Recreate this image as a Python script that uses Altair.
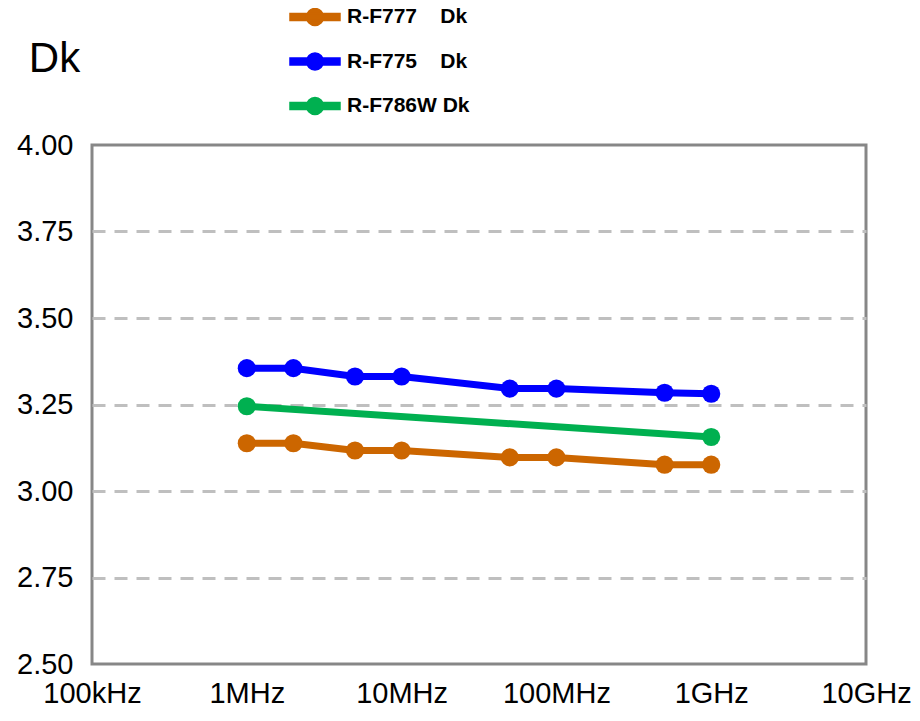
import altair as alt
import pandas as pd

freqs = [1e6, 2e6, 5e6, 1e7, 5e7, 1e8, 5e8, 1e9]
rf777 = [3.138, 3.138, 3.117, 3.117, 3.097, 3.097, 3.076, 3.076]
rf775 = [3.355, 3.355, 3.331, 3.331, 3.296, 3.296, 3.284, 3.281]
rf786w_freqs = [1e6, 1e9]
rf786w = [3.245, 3.156]

series_names = ["R-F777\u00a0\u00a0\u00a0\u00a0Dk", "R-F775\u00a0\u00a0\u00a0\u00a0Dk", "R-F786W Dk"]
line_colors = ["#CC6600", "#0000FF", "#00B050"]

x_ticks = [1e5, 1e6, 1e7, 1e8, 1e9, 1e10]
x_tick_labels = ["100kHz", "1MHz", "10MHz", "100MHz", "1GHz", "10GHz"]
y_ticks = [2.5, 2.75, 3.0, 3.25, 3.5, 3.75, 4.0]

rows = []
for f, v in zip(freqs, rf777):
    rows.append({"f": f, "dk": v, "s": series_names[0]})
for f, v in zip(freqs, rf775):
    rows.append({"f": f, "dk": v, "s": series_names[1]})
for f, v in zip(rf786w_freqs, rf786w):
    rows.append({"f": f, "dk": v, "s": series_names[2]})
df = pd.DataFrame(rows)

FONT = "Liberation Sans Narrow, Arial Narrow, Liberation Sans, Arial, sans-serif"

label_map = "{" + ",".join(f"'{int(v)}':'{l}'" for v, l in zip(x_ticks, x_tick_labels)) + "}"

x_enc = alt.X("f:Q", scale=alt.Scale(type="log", domain=[1e5, 1e10], nice=False),
              axis=alt.Axis(values=x_ticks, labelExpr=f"{label_map}[''+datum.value]",
                            grid=False, domain=False, ticks=False, title=None,
                            labelFont=FONT, labelFontSize=29, labelColor="#000000",
                            labelPadding=15, labelFlush=False, labelOverlap=False))
y_enc = alt.Y("dk:Q", scale=alt.Scale(domain=[2.5, 4.0], nice=False, zero=False),
              axis=alt.Axis(values=y_ticks, format=".2f", domain=False, ticks=False,
                            grid=True, gridColor="#BFBFBF", gridWidth=3, gridDash=[13, 9],
                            gridOpacity={"condition": {"test": "datum.value >= 3.99 || datum.value <= 2.51", "value": 0}, "value": 1},
                            labelFont=FONT, labelFontSize=29, labelColor="#000000",
                            labelPadding=19, labelOverlap=False,
                            title="Dk", titleAngle=0, titleFont=FONT, titleFontSize=42,
                            titleFontWeight="normal", titleColor="#000000",
                            titleX=-38, titleY=-87, titleAlign="center", titleBaseline="middle"))

color_scale = alt.Scale(domain=series_names, range=line_colors)
legend_path = ("M-1,-0.14 L1,-0.14 L1,0.14 L-1,0.14 Z "
               "M0.34,0 A0.34,0.34 0 1,1 -0.34,0 A0.34,0.34 0 1,1 0.34,0 Z")

lines = alt.Chart(df).mark_line(strokeWidth=7).encode(
    x=x_enc, y=y_enc,
    color=alt.Color("s:N", scale=color_scale,
                    legend=alt.Legend(title=None, orient="none", legendX=197, legendY=-154,
                                      symbolType=legend_path, symbolSize=2500,
                                      labelOffset=6, rowPadding=6.5, padding=0,
                                      labelFont=FONT, labelFontSize=21, labelFontWeight="bold",
                                      labelColor="#000000", labelLimit=400)),
)
points = alt.Chart(df).mark_circle(size=330, opacity=1).encode(
    x="f:Q", y="dk:Q",
    color=alt.Color("s:N", scale=color_scale),
)

chart = alt.layer(lines, points).properties(
    width=774, height=519,
    autosize=alt.AutoSizeParams(type="none"),
    padding={"left": 84, "top": 137, "right": 45, "bottom": 45},
).configure(background="#FFFFFF").configure_view(stroke="#878787", strokeWidth=3)

chart.save("out.html", embed_options={"renderer": "svg", "actions": False})
